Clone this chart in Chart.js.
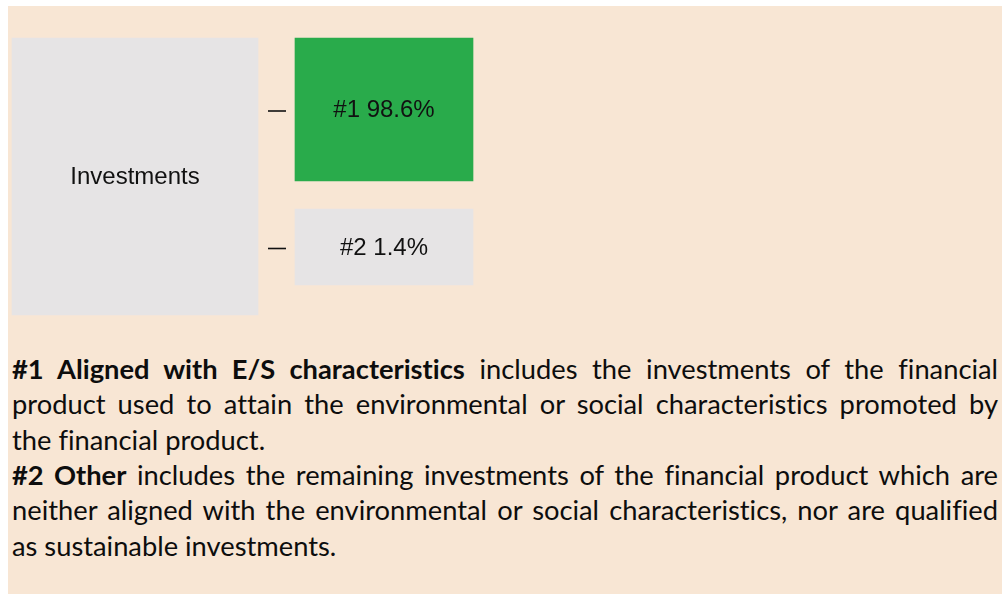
<!DOCTYPE html>
<html>
<head>
<meta charset="utf-8">
<script src="https://cdn.jsdelivr.net/npm/chart.js@4/dist/chart.umd.min.js"></script>
<style>
  html, body { margin: 0; padding: 0; background: #ffffff; width: 1006px; height: 595px; overflow: hidden; }
  #panel { position: absolute; left: 8px; top: 6px; width: 994px; height: 588px; background: #f8e6d4; }
  #chartBox { position: absolute; left: 0; top: 0; width: 1006px; height: 330px; }
  #notes { position: absolute; left: 12px; width: 986px; font-family: Lato, "Open Sans", sans-serif; color: #0d0d0d;
           font-variant-ligatures: none; font-feature-settings: "liga" 0, "clig" 0, "dlig" 0; }
  #notes div { white-space: nowrap; }
  #notes div.j { white-space: normal; text-align: justify; text-align-last: justify; }
  #notes b { font-weight: 700; }
</style>
</head>
<body>
<div id="panel"></div>
<div id="chartBox"><canvas id="c"></canvas></div>
<div id="notes"></div>
<script>
// ---------- data ----------
const rootCategory = "Investments";
const categories = ["#1", "#2"];
const shares = [98.6, 1.4];
const categoryTitles = ["#1 Aligned with E/S characteristics", "#2 Other"];
const categoryNotes = [
  ["includes the investments of the financial",
   "product used to attain the environmental or social characteristics promoted by",
   "the financial product."],
  ["includes the remaining investments of the financial product which are",
   "neither aligned with the environmental or social characteristics, nor are qualified",
   "as sustainable investments."]
];

// ---------- layout (diagram geometry, chart units = px) ----------
const LAYOUT = {
  width: 1006, height: 330,
  root: { left: 12, right: 258, top: 38, bottom: 315 },
  child: { left: 295, right: 473 },
  childRows: [ { top: 38, bottom: 181, dashY: 111 }, { top: 209, bottom: 285, dashY: 248.5 } ],
  dash: { left: 268, right: 286 }
};
const COLORS = { root: '#e6e4e5', children: ['#29ab4b', '#e6e4e5'], text: '#111111', dash: '#111111' };

const rootData = [{ x: (LAYOUT.root.left + LAYOUT.root.right) / 2, y: [LAYOUT.root.top, LAYOUT.root.bottom], label: rootCategory }];
const childData = categories.map((c, i) => ({
  x: (LAYOUT.child.left + LAYOUT.child.right) / 2,
  y: [LAYOUT.childRows[i].top, LAYOUT.childRows[i].bottom],
  label: c + ' ' + shares[i].toFixed(1) + '%'
}));

const dashSets = categories.map((c, i) => ({
  type: 'line',
  data: [{ x: LAYOUT.dash.left, y: LAYOUT.childRows[i].dashY }, { x: LAYOUT.dash.right, y: LAYOUT.childRows[i].dashY }],
  borderColor: COLORS.dash, borderWidth: 1.6, pointRadius: 0, fill: false, tension: 0
}));

const boxLabels = {
  id: 'boxLabels',
  afterDatasetsDraw(chart) {
    const ctx = chart.ctx;
    ctx.save();
    ctx.fillStyle = COLORS.text;
    ctx.font = '24px "Liberation Sans", Arial, sans-serif';
    ctx.textAlign = 'center';
    ctx.textBaseline = 'middle';
    chart.data.datasets.forEach((ds, di) => {
      if (ds.type === 'line') return;
      const meta = chart.getDatasetMeta(di);
      meta.data.forEach((el, i) => {
        const raw = ds.data[i];
        ctx.fillText(raw.label, el.x, (el.y + el.base) / 2 + 1);
      });
    });
    ctx.restore();
  }
};

new Chart(document.getElementById('c'), {
  type: 'bar',
  data: {
    datasets: [
      { type: 'bar', data: rootData, backgroundColor: COLORS.root, barThickness: LAYOUT.root.right - LAYOUT.root.left, grouped: false, borderWidth: 0 },
      { type: 'bar', data: childData, backgroundColor: COLORS.children, barThickness: LAYOUT.child.right - LAYOUT.child.left, grouped: false, borderWidth: 0 },
      ...dashSets
    ]
  },
  options: {
    responsive: true, maintainAspectRatio: false, animation: false,
    layout: { padding: 0 },
    plugins: { legend: { display: false }, tooltip: { enabled: false } },
    scales: {
      x: { type: 'linear', min: 0, max: LAYOUT.width, display: false, offset: false },
      y: { type: 'linear', min: 0, max: LAYOUT.height, reverse: true, display: false, beginAtZero: false }
    }
  },
  plugins: [boxLabels]
});

// ---------- notes text ----------
(function () {
  const notes = document.getElementById('notes');
  const m = document.createElement('canvas').getContext('2d');
  m.font = '100px Lato';
  const target = 253; // width of "the financial product."
  const size = Math.round(100 * target / m.measureText(categoryNotes[0][2]).width * 10) / 10;
  const lh = 35.4;
  notes.style.fontSize = size + 'px';
  notes.style.lineHeight = lh + 'px';
  const baselineInLine = (lh - 1.2 * size) / 2 + 0.987 * size;
  notes.style.top = (379 - baselineInLine) + 'px';
  let html = '';
  categoryTitles.forEach((t, i) => {
    const lines = categoryNotes[i];
    lines.forEach((ln, k) => {
      const last = k === lines.length - 1;
      const content = (k === 0 ? '<b>' + t + '</b> ' : '') + ln;
      html += '<div class="' + (last ? '' : 'j') + '">' + content + '</div>';
    });
  });
  notes.innerHTML = html;
})();
</script>
</body>
</html>
